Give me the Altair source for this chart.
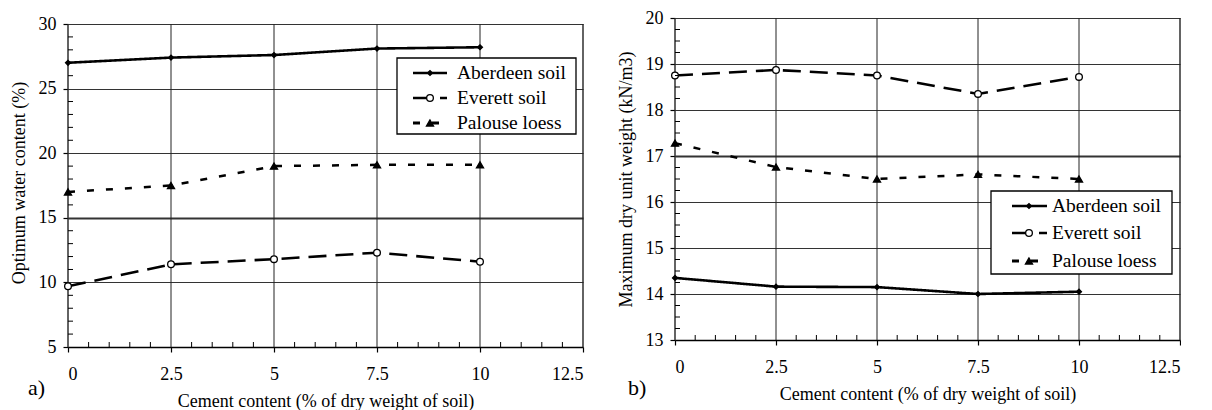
import altair as alt
import pandas as pd

cement = [0, 2.5, 5, 7.5, 10]
series_names = ["Aberdeen soil", "Everett soil", "Palouse loess"]

water_aberdeen = [27.0, 27.4, 27.6, 28.1, 28.2]
water_everett = [9.7, 11.4, 11.8, 12.3, 11.6]
water_palouse = [17.0, 17.5, 19.0, 19.1, 19.1]

unit_aberdeen = [14.35, 14.16, 14.15, 14.0, 14.05]
unit_everett = [18.75, 18.87, 18.75, 18.35, 18.72]
unit_palouse = [17.28, 16.76, 16.5, 16.6, 16.5]

x_ticks = [0, 2.5, 5, 7.5, 10, 12.5]
x_minor = [0.5, 1, 1.5, 2, 3, 3.5, 4, 4.5, 5.5, 6, 6.5, 7, 8, 8.5, 9, 9.5,
           10.5, 11, 11.5, 12]
water_ticks = [5, 10, 15, 20, 25, 30]
water_minor = [6, 7, 8, 9, 11, 12, 13, 14, 16, 17, 18, 19, 21, 22, 23, 24,
               26, 27, 28, 29]
unit_ticks = [13, 14, 15, 16, 17, 18, 19, 20]
unit_minor = [13.25, 13.5, 13.75, 14.25, 14.5, 14.75, 15.25, 15.5, 15.75,
              16.25, 16.5, 16.75, 17.25, 17.5, 17.75, 18.25, 18.5, 18.75,
              19.25, 19.5, 19.75]

FONT = "Liberation Serif"
X_TITLE = "Cement content (% of dry weight of soil)"

dashes = [[1, 0], [18, 9], [7, 12]]
shapes = ["diamond", "circle", "triangle-up"]
fills = ["black", "white", "black"]
sizes = [24, 45, 50]
widths = [2.6, 2.5, 3]

one = pd.DataFrame({"k": [0]})


def make_panel(values_list, ytitle, ydom, yticks, yminor, thick, W, H,
               top_px, leg, tag, tag_xy):
    rows = []
    for name, vals in zip(series_names, values_list):
        for c, v in zip(cement, vals):
            rows.append({"cement": c, "value": v, "series": name})
    df = pd.DataFrame(rows)
    # extra empty space above the frame (px) -> extend the domain upward
    per_px = (ydom[1] - ydom[0]) / (H - top_px)
    ytop = ydom[1] + top_px * per_px
    xs = alt.Scale(domain=[0, 12.5], nice=False, zero=False)
    ys = alt.Scale(domain=[ydom[0], ytop], nice=False, zero=False)
    x_enc = alt.X("cement:Q", scale=xs,
                  axis=alt.Axis(values=x_ticks, labelExpr="'' + datum.value",
                                title=X_TITLE, grid=False, tickSize=5,
                                labelPadding=13, titlePadding=9))
    y_enc = alt.Y("value:Q", scale=ys,
                  axis=alt.Axis(values=yticks, labelExpr="'' + datum.value",
                                title=ytitle, grid=True, domain=False,
                                tickSize=5, labelPadding=7, titlePadding=10,
                                gridWidth={"condition": {"test": f"datum.value === {thick}", "value": 2.2}, "value": 1}))
    layers = []
    # vertical grid lines + frame sides, limited to the frame
    vgrid = pd.DataFrame({"cement": x_ticks,
                          "value": [ydom[0]] * len(x_ticks),
                          "value2": [ydom[1]] * len(x_ticks)})
    layers.append(alt.Chart(vgrid).mark_rule(color="#222222").encode(
        x=x_enc, y=y_enc, y2="value2:Q",
        strokeWidth=alt.condition("datum.cement == 0 || datum.cement == 12.5",
                                  alt.value(1.4), alt.value(1))))
    base = alt.Chart(df)
    layers.append(base.mark_line(color="black").encode(
        x="cement:Q", y="value:Q",
        strokeDash=alt.StrokeDash("series:N", scale=alt.Scale(domain=series_names, range=dashes), legend=None),
        strokeWidth=alt.StrokeWidth("series:N", scale=alt.Scale(domain=series_names, range=widths), legend=None),
        detail="series:N",
    ))
    for i, name in enumerate(series_names):
        layers.append(base.transform_filter(alt.datum.series == name).mark_point(
            shape=shapes[i], fill=fills[i], stroke="black", strokeWidth=1.3,
            size=sizes[i], opacity=1, fillOpacity=1
        ).encode(x="cement:Q", y="value:Q"))
    # minor ticks (inside the frame)
    layers.append(alt.Chart(pd.DataFrame({"value": yminor})).mark_rule(
        color="black", strokeWidth=1).encode(
        y="value:Q", x=alt.value(0), x2=alt.value(5)))
    layers.append(alt.Chart(pd.DataFrame({"cement": x_minor})).mark_rule(
        color="black", strokeWidth=1).encode(
        x="cement:Q", y=alt.value(H), y2=alt.value(H - 5)))
    # legend box
    bx0, bx1, by0, by1, lx0, lx1, mx, tx, ry = leg
    layers.append(alt.Chart(one).mark_rect(
        fill="white", stroke="black", strokeWidth=1.3).encode(
        x=alt.value(bx0), x2=alt.value(bx1), y=alt.value(by0), y2=alt.value(by1)))
    for i, name in enumerate(series_names):
        yy = ry[i]
        layers.append(alt.Chart(one).mark_rule(
            color="black", strokeWidth=widths[i], strokeDash=dashes[i]).encode(
            x=alt.value(lx0), x2=alt.value(lx1), y=alt.value(yy)))
        layers.append(alt.Chart(one).mark_point(
            shape=shapes[i], fill=fills[i], stroke="black", strokeWidth=1.3,
            size=sizes[i], opacity=1, fillOpacity=1).encode(
            x=alt.value(mx), y=alt.value(yy)))
        layers.append(alt.Chart(pd.DataFrame({"label": [name]})).mark_text(
            font=FONT, fontSize=19.5, color="black", align="left",
            baseline="middle").encode(
            text="label:N", x=alt.value(tx), y=alt.value(yy)))
    layers.append(alt.Chart(pd.DataFrame({"label": [tag]})).mark_text(
        font=FONT, fontSize=22, color="black", align="left",
        baseline="middle").encode(
        text="label:N", x=alt.value(tag_xy[0]), y=alt.value(tag_xy[1])))
    return alt.layer(*layers).properties(width=W, height=H)


panel_a = make_panel(
    [water_aberdeen, water_everett, water_palouse],
    "Optimum  water content (%)", [5, 30], water_ticks, water_minor, 15,
    515, 329, 6,
    (329, 508, 40, 116, 345, 379, 362, 389, [55, 80, 105]),
    "a)", (-40, 370))

panel_b = make_panel(
    [unit_aberdeen, unit_everett, unit_palouse],
    "Maximum dry unit weight (kN/m3)", [13, 20], unit_ticks, unit_minor, 17,
    505, 322, 0,
    (316, 497, 173, 256, 337, 372, 354, 377, [188, 215, 243]),
    "b)", (-47, 370))

chart = alt.hconcat(
    panel_a, panel_b, spacing=33
).properties(
    padding={"top": 1, "left": 2, "right": 0, "bottom": 0}
).configure_view(
    strokeOpacity=0
).configure_axis(
    domainColor="black", domainWidth=1.4, tickColor="black", tickWidth=1.2,
    gridColor="#333333", gridOpacity=1,
    labelFont=FONT, labelFontSize=18, labelColor="black",
    titleFont=FONT, titleFontSize=18, titleFontWeight="normal",
    titleColor="black"
)

chart.save("out.html", embed_options={"renderer": "svg", "actions": False})
